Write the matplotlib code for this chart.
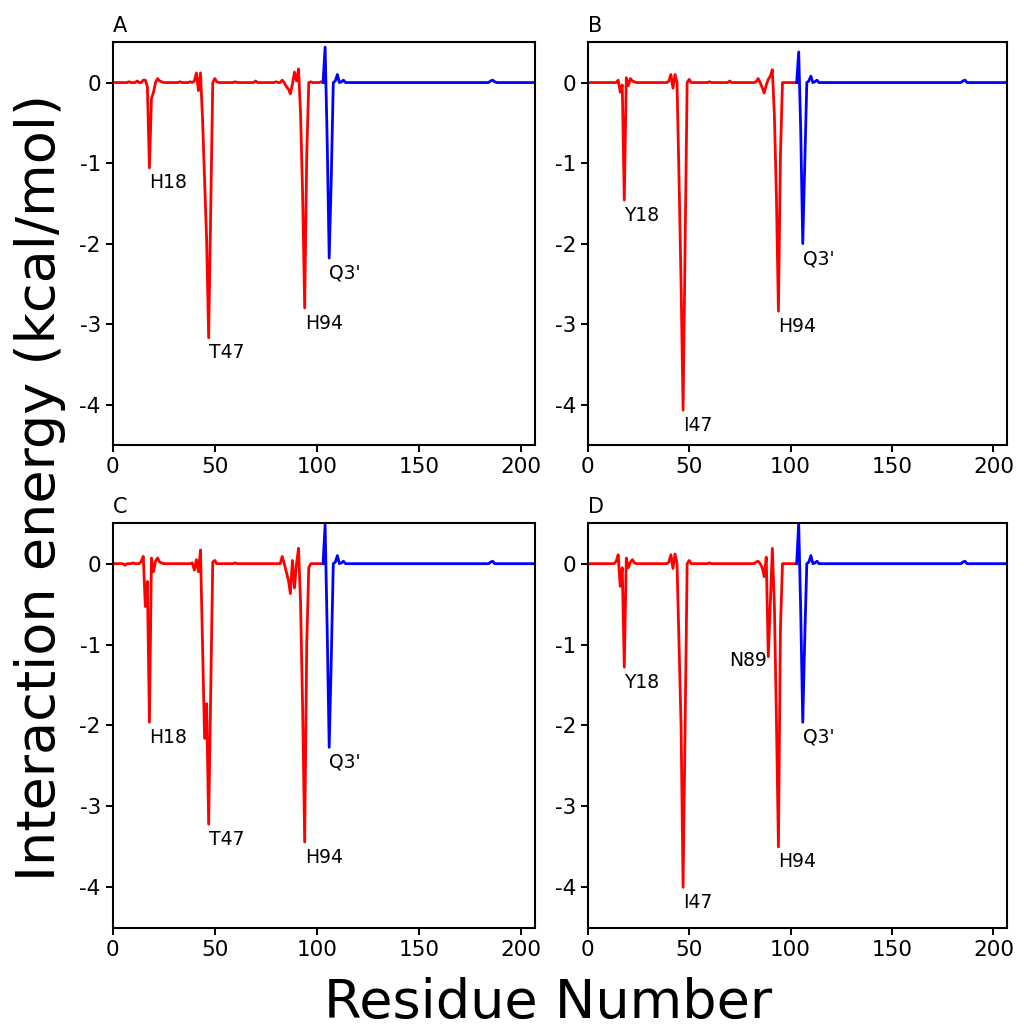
import numpy as np
import matplotlib
matplotlib.use('Agg')
import matplotlib.pyplot as plt

plt.rcParams['font.family'] = ['DejaVu Sans']
plt.rcParams['axes.unicode_minus'] = False

# residue numbering: chain 1 (red) 1-103, chain 2 (blue) 104-206
red_res = np.arange(1, 104)
blue_res = np.arange(104, 207)

# non-zero interaction energies (kcal/mol), everything else is ~0
a_red = {8: 0.01, 12: 0.02, 15: 0.03, 16: 0.03, 17: -0.05, 18: -1.06, 19: -0.2, 20: -0.12,
         21: 0.0, 22: 0.05, 23: 0.02, 24: 0.01, 33: 0.01, 38: 0.01, 40: 0.02, 41: 0.12,
         42: -0.1, 43: 0.12, 44: -0.45, 45: -1.2, 46: -1.95, 47: -3.17, 48: -1.6, 49: 0.0,
         50: 0.05, 51: 0.01, 60: 0.01, 70: 0.02, 80: 0.01, 83: 0.03, 85: -0.05, 86: -0.08,
         87: -0.14, 88: -0.02, 89: 0.13, 90: 0.02, 91: 0.17, 92: -0.4, 93: -1.4, 94: -2.8,
         95: -0.9, 96: 0.0, 97: 0.01, 102: 0.01}
a_blue = {104: 0.44, 105: -0.7, 106: -2.18, 107: -1.2, 108: 0.0, 109: 0.02, 110: 0.1,
          111: 0.0, 112: 0.01, 113: 0.03, 185: 0.02, 186: 0.03, 187: 0.01}

b_red = {15: 0.03, 16: -0.12, 17: -0.03, 18: -1.46, 19: 0.06, 20: -0.04, 21: 0.05, 22: 0.02,
         23: 0.01, 40: 0.02, 41: 0.1, 42: -0.07, 43: 0.1, 44: 0.0, 45: -1.2, 46: -2.5,
         47: -4.07, 48: -2.0, 49: 0.0, 50: 0.04, 60: 0.01, 70: 0.02, 83: 0.01, 84: 0.05,
         86: -0.06, 87: -0.13, 88: -0.03, 89: 0.04, 90: 0.08, 91: 0.16, 92: -0.4, 93: -1.4,
         94: -2.84, 95: -0.9, 96: 0.0}
b_blue = {104: 0.38, 105: -0.6, 106: -2.0, 107: -1.0, 108: 0.0, 109: 0.02, 110: 0.08,
          111: 0.0, 112: 0.01, 113: 0.03, 185: 0.02, 186: 0.03}

c_red = {6: -0.02, 10: 0.01, 14: 0.03, 15: 0.09, 16: -0.53, 17: -0.22, 18: -1.96, 19: 0.07,
         20: -0.1, 21: 0.03, 22: 0.07, 23: 0.02, 24: 0.01, 39: 0.01, 40: -0.08, 41: 0.05,
         42: -0.1, 43: 0.17, 44: -1.0, 45: -2.16, 46: -1.73, 47: -3.22, 48: -1.6, 49: 0.02,
         50: 0.04, 60: 0.01, 83: 0.09, 85: -0.1, 86: -0.2, 87: -0.37, 88: 0.04, 89: -0.3,
         90: 0.0, 91: 0.19, 92: -0.5, 93: -1.8, 94: -3.44, 95: -1.0, 96: -0.05}
c_blue = {104: 0.48, 105: -0.8, 106: -2.27, 107: -1.2, 108: 0.0, 109: 0.02, 110: 0.1,
          111: 0.0, 112: 0.01, 113: 0.03, 185: 0.02, 186: 0.03}

d_red = {14: 0.03, 15: 0.11, 16: -0.28, 17: -0.05, 18: -1.28, 19: 0.07, 20: -0.05, 21: 0.02,
         22: 0.05, 23: 0.01, 40: 0.02, 41: 0.11, 42: -0.06, 43: 0.12, 44: 0.0, 45: -1.0,
         46: -2.0, 47: -4.0, 48: -2.0, 49: 0.0, 50: 0.04, 60: 0.01, 83: 0.02, 84: 0.03,
         86: -0.05, 87: -0.16, 88: 0.08, 89: -1.15, 90: -0.5, 91: 0.19, 92: -0.5, 93: -1.9,
         94: -3.5, 95: -0.8, 96: 0.0}
d_blue = {104: 0.5, 105: -0.6, 106: -1.96, 107: -0.9, 108: 0.0, 109: 0.02, 110: 0.1,
          111: 0.0, 112: 0.01, 113: 0.03, 185: 0.02, 186: 0.03}

panel_names = ['A', 'B', 'C', 'D']
red_sets = [a_red, b_red, c_red, d_red]
blue_sets = [a_blue, b_blue, c_blue, d_blue]
hotspots = [
    [(18, 'H18'), (47, 'T47'), (94, 'H94'), (106, "Q3'")],
    [(18, 'Y18'), (47, 'I47'), (94, 'H94'), (106, "Q3'")],
    [(18, 'H18'), (47, 'T47'), (94, 'H94'), (106, "Q3'")],
    [(18, 'Y18'), (47, 'I47'), (89, 'N89'), (94, 'H94'), (106, "Q3'")],
]


def fill(res, vals):
    y = np.zeros(len(res))
    for k, v in vals.items():
        y[k - res[0]] = v
    return y


fig = plt.figure(figsize=(10.24, 10.32), dpi=100)
boxes = [[0.110, 0.569, 0.412, 0.390], [0.574, 0.569, 0.409, 0.390],
         [0.110, 0.101, 0.412, 0.392], [0.574, 0.101, 0.409, 0.392]]

for i in range(4):
    ax = fig.add_axes(boxes[i])
    yr = fill(red_res, red_sets[i])
    yb = fill(blue_res, blue_sets[i])
    ax.plot(red_res, yr, color='red', lw=2.0)
    ax.plot(np.r_[red_res[-1], blue_res], np.r_[yr[-1], yb], color='blue', lw=2.0)

    for res, lab in hotspots[i]:
        val = yr[res - 1] if res < 104 else yb[res - 104]
        if lab == 'N89':
            ax.annotate(lab, (res, val), xytext=(-1, 4), textcoords='offset points',
                        ha='right', va='top', fontsize=13.5)
        else:
            ax.annotate(lab, (res, val), xytext=(0, -4), textcoords='offset points',
                        ha='left', va='top', fontsize=13.5)

    ax.set_xlim(0, 206.5)
    ax.set_ylim(-4.5, 0.5)
    ax.set_xticks([0, 50, 100, 150, 200])
    ax.set_yticks([0, -1, -2, -3, -4])
    ax.tick_params(labelsize=15.5, width=1.4, length=5)
    for s in ax.spines.values():
        s.set_linewidth(1.5)
    ax.text(0.0, 1.015, panel_names[i], transform=ax.transAxes, ha='left', va='bottom',
            fontsize=15)

fig.text(0.039, 0.528, 'Interaction energy (kcal/mol)', rotation=90, ha='center',
         va='center', fontsize=39)
fig.text(0.535, 0.028, 'Residue Number', ha='center', va='center', fontsize=39)

fig.savefig('out.png', dpi=100)
